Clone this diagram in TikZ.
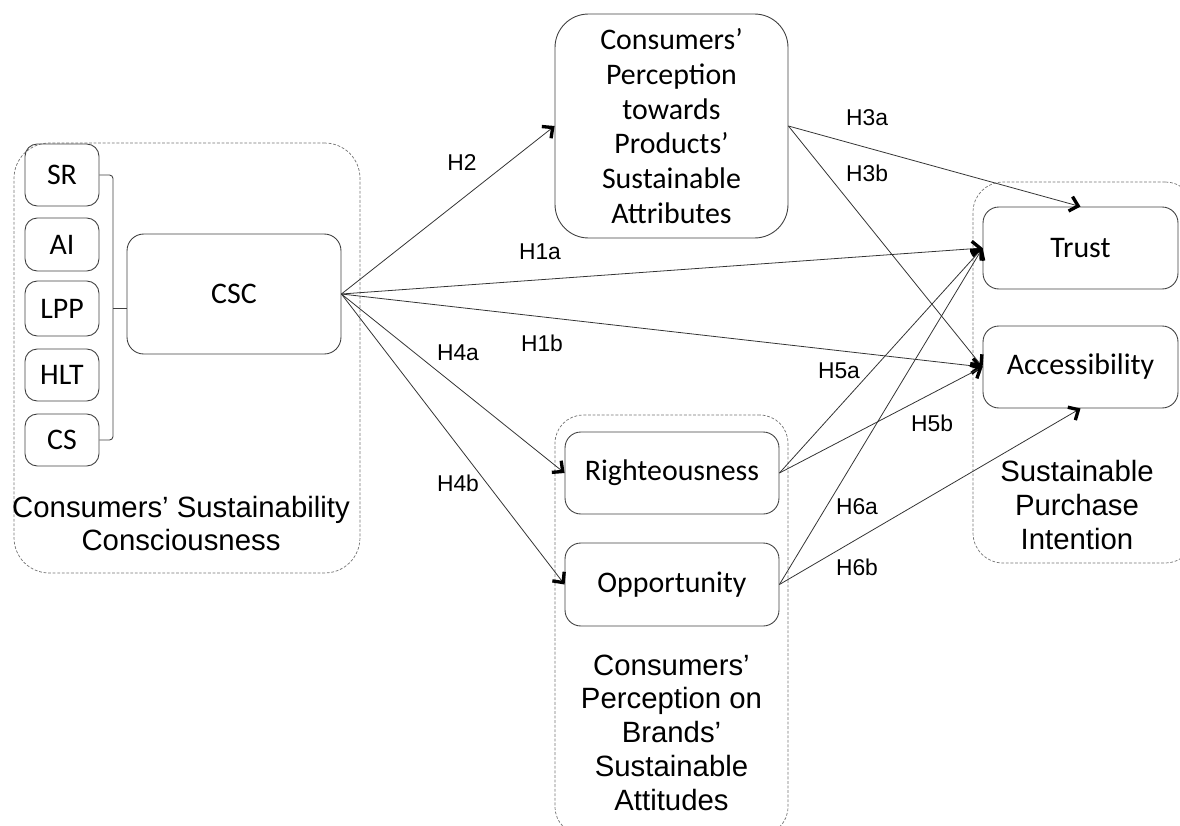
\documentclass[tikz,border=0pt]{standalone}
\usepackage{fontspec}
\setmainfont{Liberation Sans}
\newfontfamily\boxfont{Carlito}
\usetikzlibrary{arrows.meta}
\tikzset{
  box/.style={draw=black!75, line width=0.5pt, rounded corners=7pt, inner sep=0pt, align=center, font=\boxfont\fontsize{17}{19.8}\selectfont},
  group/.style={draw=black!55, line width=0.4pt, dash pattern=on 1.6pt off 1pt, rounded corners=20pt, inner sep=0pt},
  grouplabel/.style={inner sep=0pt, align=center, font=\fontsize{16.7}{19.2}\selectfont},
  hyp/.style={inner sep=0pt, font=\fontsize{13}{15}\selectfont},
  link/.style={draw=black!80, line width=0.45pt, -{Straight Barb[length=4.5pt,width=8.5pt,line width=1.9pt,color=black]}}
}
\begin{document}
\begin{tikzpicture}[x=0.02cm, y=-0.02cm]
  \useasboundingbox (0,0) rectangle (1180,825);
  \node[group, minimum width=6.92cm, minimum height=8.6cm] (G1) at (187,358) {};
  \node[group, rounded corners=16pt, minimum width=4.66cm, minimum height=8.4cm] (G2) at (671.5,625) {};
  \node[group, rounded corners=17pt, minimum width=4.44cm, minimum height=7.62cm] (G3) at (1084,372.5) {};
  \node[grouplabel] (G1t) at (181,523.5) {Consumers’ Sustainability\\Consciousness};
  \node[grouplabel] (G2t) at (671.5,732.5) {Consumers’\\Perception on\\Brands’\\Sustainable\\Attitudes};
  \node[grouplabel] (G3t) at (1077,505) {Sustainable\\Purchase\\Intention};
  \node[box, minimum width=1.48cm, minimum height=1.24cm] (SR) at (62,175) {SR};
  \node[box, minimum width=1.48cm, minimum height=1.06cm] (AI) at (62,244.5) {AI};
  \node[box, minimum width=1.48cm, minimum height=1.1cm] (LPP) at (62,308.5) {LPP};
  \node[box, minimum width=1.48cm, minimum height=1.04cm] (HLT) at (62,375) {HLT};
  \node[box, minimum width=1.48cm, minimum height=1.04cm] (CS) at (62,440) {CS};
  \node[box, rounded corners=9.5pt, minimum width=4.28cm, minimum height=2.4cm] (CSC) at (234,294) {CSC};
  \node[box, rounded corners=19pt, minimum width=4.66cm, minimum height=4.48cm] (PPA) at (671.5,126) {Consumers’\\Perception\\towards\\Products’\\Sustainable\\Attributes};
  \node[box, rounded corners=9pt, minimum width=4.28cm, minimum height=1.64cm] (Right) at (672,473) {Righteousness};
  \node[box, rounded corners=9pt, minimum width=4.28cm, minimum height=1.66cm] (Opp) at (672,584.5) {Opportunity};
  \node[box, rounded corners=9pt, minimum width=3.9cm, minimum height=1.64cm] (Trust) at (1080.5,248) {Trust};
  \node[box, rounded corners=9pt, minimum width=3.9cm, minimum height=1.64cm] (Acc) at (1080.5,367) {Accessibility};
  \coordinate (brk) at (113,308);
  \draw[draw=black!75, line width=0.5pt, rounded corners=2pt] (SR.east) -| (brk) |- (CS.east);
  \draw[draw=black!75, line width=0.5pt] (brk) -- (CSC.west |- brk);
  \draw[link] (CSC.east) -- (PPA.west);
  \draw[link] (CSC.east) -- (Trust.west);
  \draw[link] (CSC.east) -- (Acc.west);
  \draw[link] (CSC.east) -- (Right.west);
  \draw[link] (CSC.east) -- (Opp.west);
  \draw[link] (PPA.east) -- (Trust.north);
  \draw[link] (PPA.east) -- (Acc.west);
  \draw[link] (Right.east) -- (Trust.west);
  \draw[link] (Right.east) -- (Acc.west);
  \draw[link] (Opp.east) -- (Trust.west);
  \draw[link] (Opp.east) -- (Acc.south);
  \node[hyp] (h2) at (462,163) {H2};
  \node[hyp] (h1a) at (540,252) {H1a};
  \node[hyp] (h1b) at (542,343) {H1b};
  \node[hyp] (h4a) at (458,353) {H4a};
  \node[hyp] (h4b) at (458,483) {H4b};
  \node[hyp] (h3a) at (867,118) {H3a};
  \node[hyp] (h3b) at (867,173) {H3b};
  \node[hyp] (h5a) at (839,371) {H5a};
  \node[hyp] (h5b) at (932,423) {H5b};
  \node[hyp] (h6a) at (857,507) {H6a};
  \node[hyp] (h6b) at (857,567) {H6b};
\end{tikzpicture}
\end{document}
